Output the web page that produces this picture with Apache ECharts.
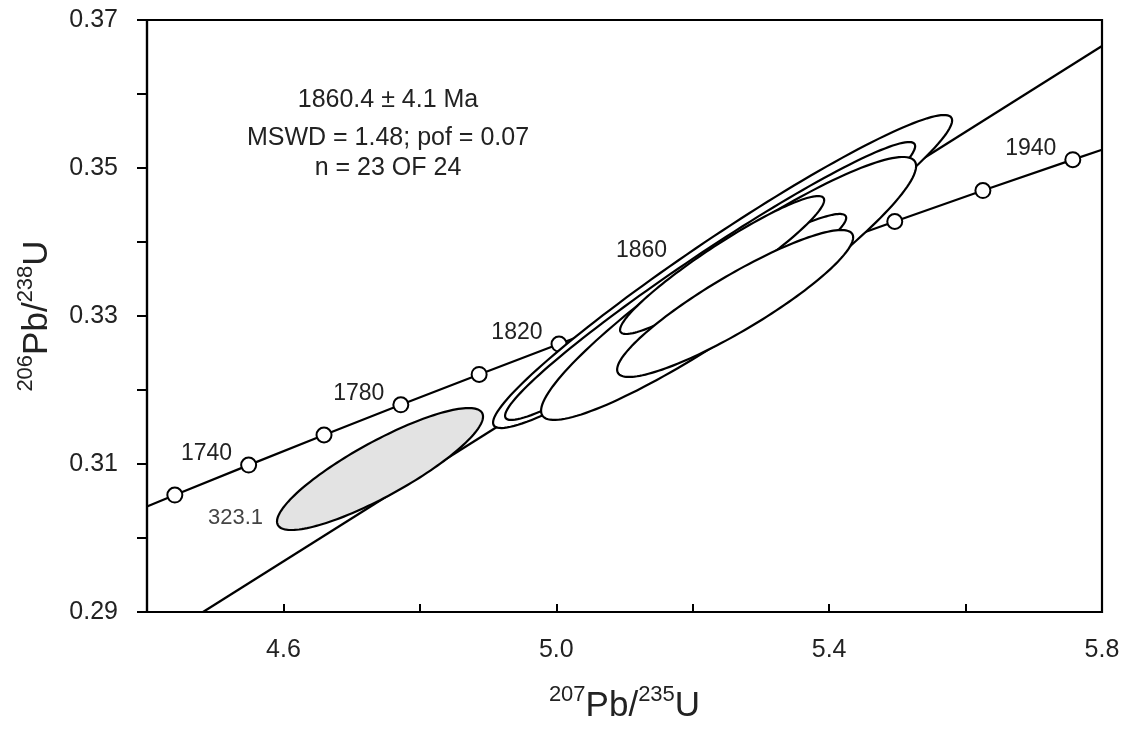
<!DOCTYPE html>
<html>
<head>
<meta charset="utf-8">
<title>Concordia</title>
<script src="https://cdn.jsdelivr.net/npm/echarts@6/dist/echarts.min.js"></script>
<style>
html,body{margin:0;padding:0;background:#fff;}
#chart{width:1128px;height:733px;}
</style>
</head>
<body>
<div id="chart"></div>
<script>
// concordia curve: age (Ma), 207Pb/235U, 206Pb/238U  (first/last = where it meets the frame)
let concAge = [1712, 1720, 1740, 1760, 1780, 1800, 1820, 1840, 1860, 1880, 1900, 1920, 1940, 1946];
let concX = [4.400, 4.4408, 4.5490, 4.6595, 4.7721, 4.8869, 5.0040, 5.1234, 5.2452, 5.3695, 5.4962, 5.6254, 5.7572, 5.800];
let concY = [0.30427, 0.30580, 0.30985, 0.31392, 0.31800, 0.32210, 0.32621, 0.33033, 0.33447, 0.33861, 0.34277, 0.34695, 0.35113, 0.35247];
let labelAges = [1740, 1780, 1820, 1860, 1940];

// discordia (regression) line ends
let discX = [4.4821, 5.800];
let discY = [0.2900, 0.36649];

// error ellipses, in drawing order: centre x, half-range x, centre y, half-range y, correlation
let ellX   = [4.7416, 5.2438, 5.2255, 5.2526, 5.2886, 5.2431, 5.2622];
let ellSX  = [0.1510, 0.3365, 0.3006, 0.2749, 0.1364, 0.1496, 0.1730];
let ellY   = [0.30932, 0.33601, 0.33473, 0.33372, 0.33622, 0.33689, 0.33169];
let ellSY  = [0.00824, 0.02115, 0.01878, 0.01777, 0.00757, 0.00932, 0.00993];
let ellRho = [0.86, 0.965, 0.97, 0.93, 0.93, 0.94, 0.90];
let ellName = ['323.1', '', '', '', '', '', ''];

let statLines = ['1860.4 \u00b1 4.1 Ma', 'MSWD = 1.48; pof = 0.07', 'n = 23 OF 24'];

const FONT = 'Liberation Sans, Arial, sans-serif';
let chart = echarts.init(document.getElementById('chart'));

let concData = concAge.map(function(a, i){
    let item = {value: [concX[i], concY[i]]};
    if (a % 20 !== 0) item.symbol = 'none';
    if (labelAges.indexOf(a) >= 0) {
        item.label = {show: true, formatter: String(a), position: 'left', distance: 8, offset: [0, -11]};
        if (a === 1860) item.label.offset = [-40, -32];
    }
    return item;
});

let ellData = ellX.map(function(x, i){ return [x, ellSX[i], ellY[i], ellSY[i], ellRho[i]]; });

// each ellipse is filled then outlined, so later ones hide the lines under them
function ellipse_fn(params, api){
    let cx = api.value(0), sx = api.value(1), cy = api.value(2), sy = api.value(3), r = api.value(4);
    let k = Math.sqrt(1 - r * r), pts = [];
    for (let i = 0; i < 160; i++) {
        let t = Math.PI * 2 * i / 160;
        pts.push(api.coord([cx + sx * Math.cos(t), cy + sy * (r * Math.cos(t) + k * Math.sin(t))]));
    }
    let g = {type: 'group', children: [
        {type: 'polygon', shape: {points: pts}, style: {fill: params.dataIndex === 0 ? '#e3e3e3' : '#fff', stroke: '#000', lineWidth: 2.2}}
    ]};
    let name = ellName[params.dataIndex];
    if (name) {
        let p = api.coord([cx - sx, cy - sy * r]);
        g.children.push({type: 'text', x: p[0] - 14, y: p[1] - 4, style: {
            text: name, fill: '#444', font: '22px ' + FONT, textAlign: 'right', textVerticalAlign: 'middle'
        }});
    }
    return g;
}

let nameRich = {
    sup: {fontSize: 22, fontFamily: FONT, color: '#222', verticalAlign: 'top', lineHeight: 22},
    main: {fontSize: 35, fontFamily: FONT, color: '#222', verticalAlign: 'bottom', lineHeight: 40}
};

let option = {
    animation: false,
    backgroundColor: '#fff',
    grid: {left: 147, right: 26, top: 20, bottom: 121, show: true, borderColor: '#000', borderWidth: 2.2, backgroundColor: 'transparent'},
    xAxis: {
        type: 'value', min: 4.4, max: 5.8, interval: 0.2,
        name: '{sup|207}{main|Pb/}{sup|235}{main|U}', nameLocation: 'middle', nameGap: 72,
        nameTextStyle: {rich: nameRich},
        axisLine: {onZero: false, lineStyle: {color: '#000', width: 2.2}},
        axisTick: {inside: true, length: 8, lineStyle: {color: '#000', width: 2}},
        splitLine: {show: false},
        axisLabel: {
            fontSize: 25, fontFamily: FONT, color: '#222', margin: 26,
            formatter: function(v){ let n = Math.round(v * 10); return (n - 46) % 4 === 0 ? v.toFixed(1) : ''; }
        }
    },
    yAxis: {
        type: 'value', min: 0.29, max: 0.37, interval: 0.01,
        name: '{sup|206}{main|Pb/}{sup|238}{main|U}', nameLocation: 'middle', nameGap: 92, nameRotate: 90,
        nameTextStyle: {rich: nameRich},
        axisLine: {show: true, onZero: false, lineStyle: {color: '#000', width: 2.2}},
        axisTick: {show: true, inside: false, length: 10, lineStyle: {color: '#000', width: 2}},
        splitLine: {show: false},
        axisLabel: {
            fontSize: 25, fontFamily: FONT, color: '#222', margin: 29,
            formatter: function(v){ let n = Math.round(v * 100); return n % 2 === 1 ? v.toFixed(2) : ''; }
        }
    },
    graphic: statLines.map(function(t, i){
        return {type: 'text', x: 388, y: [100, 138, 168][i], style: {
            text: t, fill: '#222', font: '25px ' + FONT, textAlign: 'center', textVerticalAlign: 'middle'
        }};
    }),
    series: [
        {
            type: 'line', z: 2, data: discX.map(function(x, i){ return [x, discY[i]]; }),
            symbol: 'none', lineStyle: {color: '#000', width: 2.2}, silent: true
        },
        {
            type: 'line', z: 2, data: concData,
            symbol: 'circle', symbolSize: 15, showAllSymbol: true,
            itemStyle: {color: '#fff', borderColor: '#000', borderWidth: 2},
            lineStyle: {color: '#000', width: 2.2},
            label: {show: false, fontSize: 23, fontFamily: FONT, color: '#222'},
            silent: true
        },
        {type: 'custom', z: 3, data: ellData, encode: {x: 0, y: 2}, renderItem: ellipse_fn, silent: true}
    ]
};
chart.setOption(option);
window.addEventListener('resize', function(){ chart.resize(); });
</script>
</body>
</html>
